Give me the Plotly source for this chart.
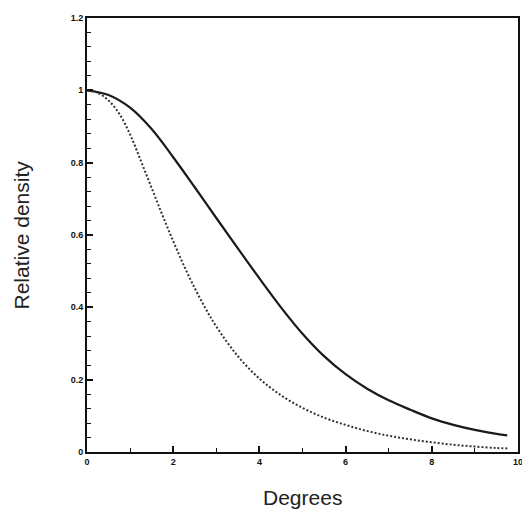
import plotly.graph_objects as go

# Data
x_solid = [0, 0.5, 1.0, 1.5, 2.0, 2.5, 3.0, 3.5, 4.0, 4.5, 5.0, 5.5, 6.0, 6.5, 7.0, 7.5, 8.0, 8.5, 9.0, 9.5, 9.75]
y_solid = [1.0, 0.987, 0.952, 0.893, 0.815, 0.732, 0.647, 0.563, 0.480, 0.400, 0.327, 0.265, 0.215, 0.175, 0.143, 0.117, 0.093, 0.075, 0.061, 0.050, 0.046]

x_dotted = [0, 0.25, 0.5, 0.75, 1.0, 1.25, 1.5, 1.75, 2.0, 2.25, 2.5, 2.75, 3.0, 3.5, 4.0, 4.5, 5.0, 5.5, 6.0, 6.5, 7.0, 7.5, 8.0, 8.5, 9.0, 9.5, 9.75]
y_dotted = [1.0, 0.993, 0.972, 0.935, 0.878, 0.805, 0.730, 0.655, 0.583, 0.515, 0.453, 0.397, 0.347, 0.265, 0.203, 0.157, 0.122, 0.095, 0.075, 0.058, 0.045, 0.035, 0.027, 0.020, 0.015, 0.011, 0.010]

x_ticks = [0, 2, 4, 6, 8, 10]
x_tick_labels = ["0", "2", "4", "6", "8", "10"]
y_ticks = [0, 0.2, 0.4, 0.6, 0.8, 1.0, 1.2]
y_tick_labels = ["0", "0.2", "0.4", "0.6", "0.8", "1", "1.2"]

fig = go.Figure()
fig.add_trace(go.Scatter(x=x_solid, y=y_solid, mode="lines",
                         line=dict(color="#1a1a1a", width=2.2, shape="spline", smoothing=1.0),
                         showlegend=False))
fig.add_trace(go.Scatter(x=x_dotted, y=y_dotted, mode="lines",
                         line=dict(color="#333333", width=2, dash="2px,2px", shape="spline", smoothing=1.0),
                         showlegend=False))

axis_common = dict(showgrid=False, zeroline=False, showline=True, linecolor="#111111",
                   linewidth=2, mirror=True, ticks="inside", tickcolor="#111111",
                   tickwidth=1.5, ticklen=6,
                   tickfont=dict(family="Liberation Sans", size=9, color="#111111", weight="bold"))

fig.update_xaxes(range=[0, 10], tickvals=x_ticks, ticktext=x_tick_labels,
                 minor=dict(dtick=1, ticks="inside", ticklen=4, tickcolor="#111111", tickwidth=1.2),
                 **axis_common)
fig.update_yaxes(range=[0, 1.2], tickvals=y_ticks, ticktext=y_tick_labels,
                 minor=dict(dtick=0.04, tick0=0, ticks="inside", ticklen=4, tickcolor="#111111", tickwidth=1.2),
                 **axis_common)

fig.add_annotation(text="Degrees", xref="paper", yref="paper", x=0.5, y=-0.105,
                   xanchor="center", yanchor="middle", showarrow=False,
                   font=dict(family="Liberation Sans", size=21, color="#222222"))
fig.add_annotation(text="Relative density", xref="paper", yref="paper", x=-0.152, y=0.5,
                   xanchor="center", yanchor="middle", textangle=-90, showarrow=False,
                   font=dict(family="Liberation Sans", size=21, color="#222222"))

# page body adds an 8px offset, so the figure is sized to land the plot area where the reference has it
fig.update_layout(width=522, height=515, margin=dict(l=79, r=12, t=5, b=71),
                  paper_bgcolor="white", plot_bgcolor="white")

fig.write_html("out.html")
